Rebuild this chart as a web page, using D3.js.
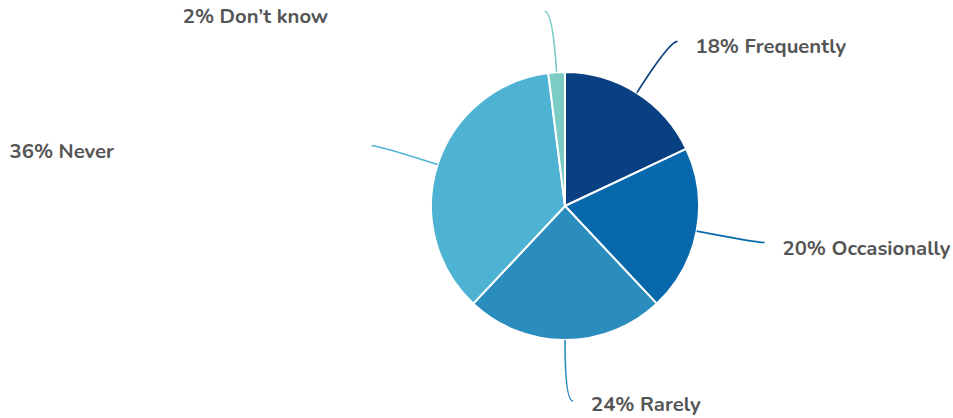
<!DOCTYPE html>
<html><head><meta charset="utf-8">
<script src="https://cdn.jsdelivr.net/npm/d3@7"></script>
<style>body{margin:0;background:#fff;}svg{display:block;}</style>
</head><body>
<svg id="chart" width="953" height="418"></svg>
<script>
const categories = ["Frequently", "Occasionally", "Rarely", "Never", "Don\u2019t know"];
const values = [18, 20, 24, 36, 2];
const colors = ["#084081", "#0868ac", "#2b8cbe", "#4eb3d3", "#7bccc4"];

const W = 953, H = 418;
const cx = 565, cy = 206, r = 134;
const connR = r + 61, hook = 8, gap = 18, leftBox = 344;

const svg = d3.select("#chart");
const g = svg.append("g").attr("transform", `translate(${cx},${cy})`);
const data = categories.map((c, i) => ({cat: c, val: values[i], color: colors[i]}));
const pie = d3.pie().value(d => d.val).sort(null);
const arcs = pie(data);
const arc = d3.arc().innerRadius(0).outerRadius(r);

g.selectAll("path.slice").data(arcs).join("path")
  .attr("class", "slice")
  .attr("d", arc)
  .attr("fill", d => d.data.color)
  .attr("stroke", "#fff").attr("stroke-width", 2).attr("stroke-linejoin", "round");

function polar(rad, a) { return [rad * Math.sin(a), -rad * Math.cos(a)]; }

arcs.forEach(d => {
  const a = (d.startAngle + d.endAngle) / 2;
  const side = Math.sin(a) >= 0 ? 1 : -1;
  const p0 = polar(r, a);
  const c = polar(connR, a);
  const p1 = [c[0] + side * hook, c[1]];
  const path = d3.path();
  path.moveTo(p0[0], p0[1]);
  path.quadraticCurveTo(c[0], c[1], p1[0], p1[1]);
  g.append("path").attr("d", path.toString())
    .attr("fill", "none").attr("stroke", d.data.color).attr("stroke-width", 1.6);
  const tx = side > 0 ? p1[0] + gap : p1[0] - gap - leftBox;
  const ty = Math.min(p1[1] + 12, H - cy - 7);
  g.append("text")
    .attr("x", tx).attr("y", ty)
    .attr("text-anchor", "start")
    .attr("font-family", "Nunito, Lato, sans-serif")
    .attr("font-weight", "bold")
    .attr("font-size", 20.3)
    .attr("fill", "#555555")
    .text(`${d.data.val}% ${d.data.cat}`);
});
</script>
</body></html>
